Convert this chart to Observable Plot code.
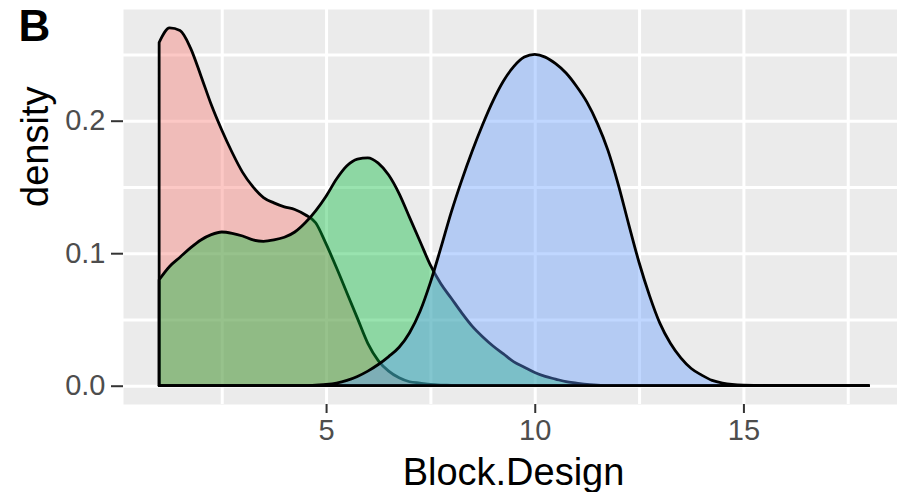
<!DOCTYPE html>
<html>
<head>
<meta charset="utf-8">
<script src="https://cdn.jsdelivr.net/npm/d3@7"></script>
<script src="https://cdn.jsdelivr.net/npm/@observablehq/plot@0.6"></script>
<style>
  html, body { margin: 0; padding: 0; background: #ffffff; }
  #chart svg { display: block; }
</style>
</head>
<body>
<div id="chart"></div>
<script>
// Sampling positions of the density estimates (Block.Design score)
const blockDesign = [
  1, 1.25, 1.5, 1.75, 2, 2.25, 2.5, 2.75, 3, 3.25, 3.5, 3.75, 4, 4.25, 4.5, 4.75,
  5, 5.25, 5.5, 5.75, 6, 6.25, 6.5, 6.75, 7, 7.25, 7.5, 7.75, 8, 8.25, 8.5, 8.75,
  9, 9.25, 9.5, 9.75, 10, 10.25, 10.5, 10.75, 11, 11.25, 11.5, 11.75, 12, 12.25, 12.5, 12.75,
  13, 13.25, 13.5, 13.75, 14, 14.25, 14.5, 15, 16, 17, 18
];

// Density of each group at those positions
const densityRed = [
  0.259, 0.270, 0.268, 0.255, 0.234, 0.212, 0.193, 0.176, 0.161, 0.150, 0.142, 0.138, 0.135, 0.133, 0.129, 0.123,
  0.107, 0.089, 0.070, 0.051, 0.032, 0.019, 0.011, 0.006, 0.003, 0.002, 0.001, 0.0005, 0.0003, 0, 0, 0,
  0, 0, 0, 0, 0, 0, 0, 0, 0, 0, 0, 0, 0, 0, 0, 0,
  0, 0, 0, 0, 0, 0, 0, 0, 0, 0, 0
];
const densityGreen = [
  0.080, 0.090, 0.097, 0.104, 0.110, 0.114, 0.116, 0.115, 0.113, 0.110, 0.109, 0.110, 0.112, 0.116, 0.123, 0.132,
  0.143, 0.156, 0.166, 0.171, 0.172, 0.168, 0.159, 0.145, 0.127, 0.109, 0.091, 0.077, 0.066, 0.055, 0.045, 0.037,
  0.030, 0.024, 0.018, 0.014, 0.010, 0.007, 0.005, 0.003, 0.002, 0.001, 0.0005, 0, 0, 0, 0, 0,
  0, 0, 0, 0, 0, 0, 0, 0, 0, 0, 0
];
const densityBlue = [
  0, 0, 0, 0, 0, 0, 0, 0, 0, 0, 0, 0, 0, 0, 0, 0.0005,
  0.001, 0.002, 0.004, 0.007, 0.011, 0.016, 0.022, 0.029, 0.040, 0.056, 0.078, 0.104, 0.131, 0.155, 0.177, 0.197,
  0.215, 0.230, 0.241, 0.248, 0.250, 0.248, 0.243, 0.236, 0.226, 0.214, 0.198, 0.178, 0.152, 0.122, 0.093, 0.068,
  0.047, 0.032, 0.021, 0.013, 0.008, 0.004, 0.002, 0.0005, 0, 0, 0
];

const groupColors = ["#F8766D", "#00BA38", "#619CFF"];
const groupDensities = [densityRed, densityGreen, densityBlue];

const xTicks = [5, 10, 15];
const xMinorTicks = [2.5, 7.5, 12.5, 17.5];
const yTicks = [0, 0.1, 0.2];
const yMinorTicks = [0.05, 0.15, 0.25];

const rowsOf = (values) => blockDesign.map((x, i) => ({x, density: values[i]}));

const font = "'Liberation Sans', Arial, Helvetica, sans-serif";

const chart = Plot.plot({
  width: 897,
  height: 492,
  marginLeft: 123,
  marginRight: 0,
  marginTop: 9,
  marginBottom: 88,
  style: {fontFamily: font, background: "#ffffff"},
  x: {domain: [0.134, 18.68]},
  y: {domain: [-0.0138, 0.2843]},
  marks: [
    Plot.frame({fill: "#EBEBEB", stroke: null}),
    Plot.gridX(xMinorTicks.concat(xTicks), {stroke: "#ffffff", strokeOpacity: 1, strokeWidth: 3}),
    Plot.gridY(yMinorTicks.concat(yTicks), {stroke: "#ffffff", strokeOpacity: 1, strokeWidth: 3}),
    ...groupDensities.map((values, i) =>
      Plot.areaY(rowsOf(values), {
        x: "x",
        y: "density",
        fill: groupColors[i],
        fillOpacity: 0.4,
        stroke: "#000000",
        strokeWidth: 2.8,
        strokeLinejoin: "round",
        curve: "monotone-x"
      })
    ),
    Plot.axisX(xTicks, {
      tickSize: 9, tickPadding: 6, strokeWidth: 2,
      stroke: "#333333", fill: "#4D4D4D", fontSize: 29, label: null
    }),
    Plot.axisY(yTicks, {
      tickSize: 12, tickPadding: 6, strokeWidth: 2,
      stroke: "#333333", fill: "#4D4D4D", fontSize: 29, label: null,
      tickFormat: d3.format(".1f")
    }),
    Plot.text(["Block.Design"], {
      text: d => d, frameAnchor: "bottom", lineAnchor: "middle",
      dx: 3, dy: 68, fontSize: 38, fill: "#000000"
    }),
    Plot.text(["density"], {
      text: d => d, frameAnchor: "left", rotate: -90, lineAnchor: "middle",
      dx: -88, fontSize: 38, fill: "#000000"
    }),
    Plot.text(["B"], {
      text: d => d, frameAnchor: "top-left", textAnchor: "start", lineAnchor: "top",
      dx: -105, dy: 0, fontSize: 44, fontWeight: "bold", fill: "#000000"
    })
  ]
});

document.getElementById("chart").appendChild(chart);
</script>
</body>
</html>
